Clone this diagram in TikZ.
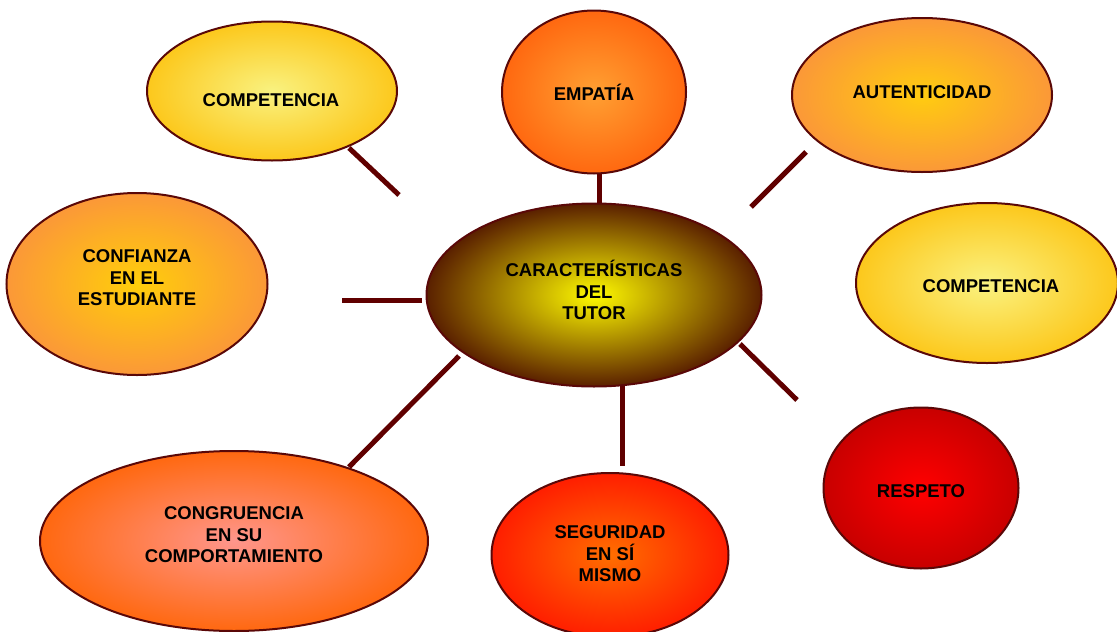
\documentclass[tikz,border=0pt]{standalone}
\usepackage{fontspec}
\setmainfont{Liberation Sans}
\usetikzlibrary{shapes.geometric}
\definecolor{rim}{HTML}{5A0808}
\definecolor{conncol}{HTML}{600000}
\begin{document}
\begin{tikzpicture}[x=1pt,y=-1pt,
  bubble/.style={ellipse, draw=rim, line width=2pt, inner sep=0pt, shading=radial},
  lbl/.style={font=\fontsize{18.5}{21.5}\selectfont\bfseries, align=center, text=black, inner sep=0pt},
  conn/.style={draw=conncol, line width=5pt}]
\useasboundingbox (0,0) rectangle (1117,632);
% connectors (drawn first)
\coordinate (a1) at (349,148); \coordinate (b1) at (399,195);
\coordinate (a3) at (806,152); \coordinate (b3) at (751,207);
\coordinate (a4) at (342,300); \coordinate (b4) at (422,300);
\coordinate (a5) at (740,344); \coordinate (b5) at (797,400);
\coordinate (a6) at (622,382); \coordinate (b6) at (622,466);
\coordinate (a7) at (459,356); \coordinate (b7) at (349,467);
\coordinate (a2) at (599,170); \coordinate (b2) at (599,206);
\draw[conn] (a1) -- (b1);
\draw[conn] (a2) -- (b2);
\draw[conn] (a3) -- (b3);
\draw[conn] (a4) -- (b4);
\draw[conn] (a5) -- (b5);
\draw[conn] (a6) -- (b6);
\draw[conn] (a7) -- (b7);
% bubbles
\node[bubble, minimum width=250, minimum height=139, inner color={rgb,255:red,249;green,242;blue,128}, outer color={rgb,255:red,252;green,200;blue,28}] (comp1) at (272,91) {};
\node[lbl] (tcomp1) at (271,100) {COMPETENCIA};
\node[bubble, minimum width=184, minimum height=163, inner color={rgb,255:red,255;green,160;blue,50}, outer color={rgb,255:red,255;green,104;blue,16}] (emp) at (594,92) {};
\node[lbl] (temp) at (594,92) {EMPATÍA};
\node[bubble, minimum width=260, minimum height=154, inner color={rgb,255:red,255;green,204;blue,16}, outer color={rgb,255:red,251;green,152;blue,56}] (aut) at (922,95) {};
\node[lbl] (taut) at (922,92) {AUTENTICIDAD};
\node[bubble, minimum width=261, minimum height=182, inner color={rgb,255:red,255;green,206;blue,10}, outer color={rgb,255:red,251;green,152;blue,56}] (conf) at (137,284) {};
\node[lbl] (tconf) at (137,278) {CONFIANZA\\EN EL\\ESTUDIANTE};
\node[bubble, minimum width=335, minimum height=183, inner color={rgb,255:red,255;green,250;blue,0}, outer color={rgb,255:red,90;green,32;blue,0}] (tutor) at (594,295) {};
\node[lbl] (ttutor) at (594,290) {CARACTERÍSTICAS\\DEL\\TUTOR};
\node[bubble, minimum width=262, minimum height=160, inner color={rgb,255:red,250;green,242;blue,128}, outer color={rgb,255:red,252;green,200;blue,28}] (comp2) at (987,283) {};
\node[lbl] (tcomp2) at (991,286) {COMPETENCIA};
\node[bubble, minimum width=195, minimum height=161, inner color={rgb,255:red,255;green,0;blue,0}, outer color={rgb,255:red,200;green,0;blue,0}] (resp) at (921,488) {};
\node[lbl] (tresp) at (921,491) {RESPETO};
\node[bubble, minimum width=237, minimum height=164, inner color={rgb,255:red,255;green,110;blue,0}, outer color={rgb,255:red,255;green,30;blue,0}] (seg) at (610,555) {};
\node[lbl] (tseg) at (610,554) {SEGURIDAD\\EN SÍ\\MISMO};
\node[bubble, minimum width=388, minimum height=180, inner color={rgb,255:red,255;green,150;blue,140}, outer color={rgb,255:red,255;green,104;blue,16}] (cong) at (234,541) {};
\node[lbl] (tcong) at (234,535) {CONGRUENCIA\\EN SU\\COMPORTAMIENTO};
\end{tikzpicture}
\end{document}
